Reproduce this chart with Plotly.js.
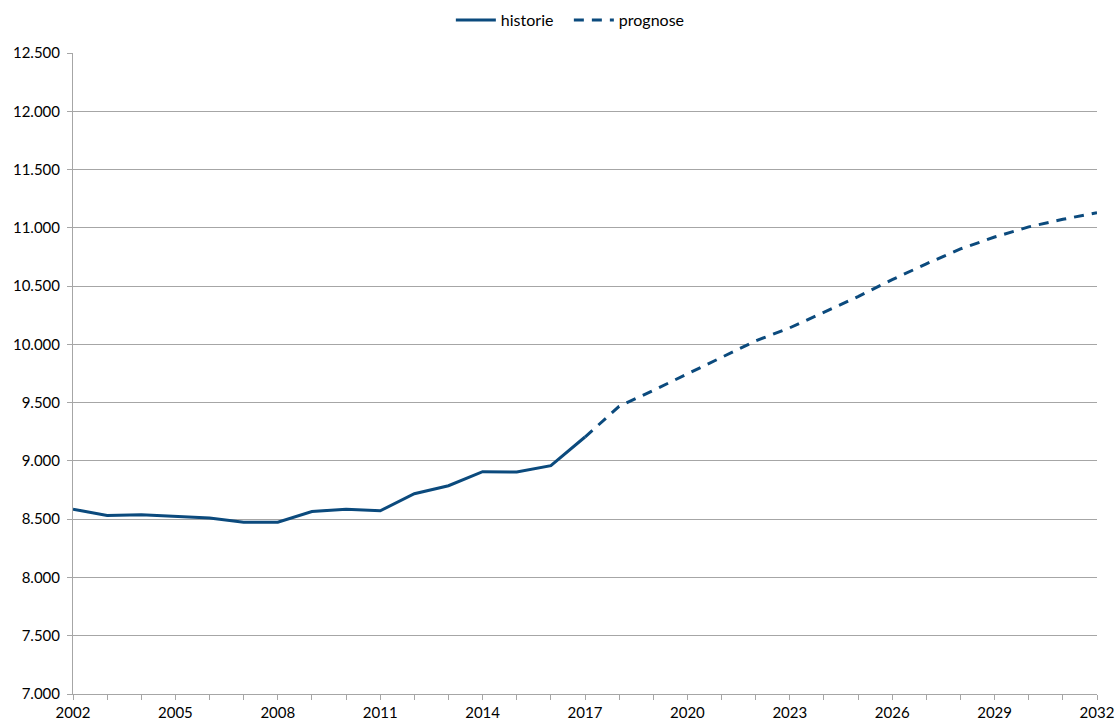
<!DOCTYPE html>
<html>
<head>
<meta charset="utf-8">
<script src="https://cdn.plot.ly/plotly-3.0.1.min.js"></script>
<style>html,body{margin:0;padding:0;background:#fff;}#chart{width:1115px;height:722px;}</style>
</head>
<body>
<div id="chart"></div>
<script>
var historyYears = [2002,2003,2004,2005,2006,2007,2008,2009,2010,2011,2012,2013,2014,2015,2016,2017];
var historyValues = [8586,8531,8537,8526,8511,8474,8474,8566,8586,8572,8718,8787,8908,8905,8959,9205];
var forecastYears = [2017,2018,2019,2020,2021,2022,2023,2024,2025,2026,2027,2028,2029,2030,2031,2032];
var forecastValues = [9205,9468,9605,9748,9885,10030,10142,10275,10410,10555,10691,10819,10921,11008,11073,11130];
var seriesNames = ['historie','prognose'];
var xTickYears = [2002,2005,2008,2011,2014,2017,2020,2023,2026,2029,2032];

var lineColor = '#0b4a7d';
var axisColor = '#a6a6a6';
var fontFam = 'Lato, "Liberation Sans", sans-serif';

var traces = [
  {x: historyYears, y: historyValues, name: seriesNames[0], type: 'scatter', mode: 'lines',
   line: {color: lineColor, width: 3}},
  {x: forecastYears, y: forecastValues, name: seriesNames[1], type: 'scatter', mode: 'lines',
   line: {color: lineColor, width: 3, dash: '10px,8px'}}
];

var layout = {
  width: 1115, height: 722,
  margin: {l: 73, r: 18, t: 53, b: 28, autoexpand: false},
  paper_bgcolor: '#fff', plot_bgcolor: '#fff',
  separators: ',.',
  font: {family: fontFam, size: 15, color: '#000'},
  showlegend: true,
  legend: {orientation: 'h', x: 0.369, xanchor: 'left', yref: 'container', y: 1 - 20/722, yanchor: 'middle',
           font: {family: fontFam, size: 16, color: '#000'}, itemwidth: 40, tracegroupgap: 0,
           entrywidth: 63, entrywidthmode: 'pixels'},
  xaxis: {
    range: [2002, 2032], tickmode: 'array', tickvals: xTickYears, ticktext: xTickYears.map(String),
    showgrid: false, zeroline: false, showline: true, linecolor: axisColor, linewidth: 1,
    ticks: 'outside', ticklen: 5, tickcolor: axisColor,
    minor: {dtick: 1, tick0: 2002, ticks: 'outside', ticklen: 5, tickcolor: axisColor, showgrid: false},
    tickfont: {family: fontFam, size: 15, color: '#000'}
  },
  yaxis: {
    range: [7000, 12500], dtick: 500, tick0: 7000, tickformat: ',d',
    showgrid: true, gridcolor: axisColor, gridwidth: 1, zeroline: false,
    showline: true, linecolor: axisColor, linewidth: 1,
    ticks: 'outside', ticklen: 5, tickcolor: axisColor, ticklabelstandoff: 4,
    tickfont: {family: fontFam, size: 15, color: '#000'}
  }
};

Plotly.newPlot('chart', traces, layout, {displayModeBar: false, staticPlot: true});
</script>
</body>
</html>
